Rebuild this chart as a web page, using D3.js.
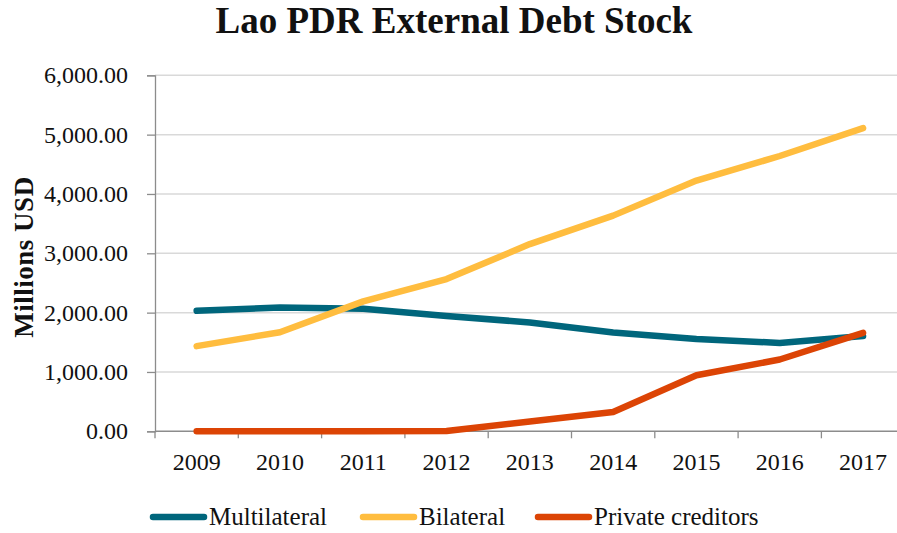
<!DOCTYPE html>
<html>
<head>
<meta charset="utf-8">
<script src="https://cdn.jsdelivr.net/npm/d3@7"></script>
<style>
  html, body { margin: 0; padding: 0; background: #fff; }
  svg { display: block; }
  text { font-family: "Liberation Serif", "DejaVu Serif", serif; fill: #111; }
</style>
</head>
<body>
<svg id="chart" width="897" height="533"></svg>
<script>
// Lao PDR external debt stock, millions USD
const years = ["2009", "2010", "2011", "2012", "2013", "2014", "2015", "2016", "2017"];
const multilateral = [2030, 2085, 2065, 1945, 1835, 1665, 1555, 1490, 1605];
const bilateral = [1435, 1670, 2190, 2565, 3155, 3635, 4225, 4640, 5110];
const privateCreditors = [0, 0, 0, 5, 165, 325, 945, 1210, 1660];
const yTicks = [0, 1000, 2000, 3000, 4000, 5000, 6000];

const seriesList = [
  { name: "Multilateral", values: multilateral, color: "#00667C" },
  { name: "Bilateral", values: bilateral, color: "#FFBD3F" },
  { name: "Private creditors", values: privateCreditors, color: "#DC4405" }
];

const svg = d3.select("#chart");
const plotLeft = 155, plotRight = 155 + 9 * 83.3, plotTop = 75.3, plotBottom = 431.3;

const x = d3.scaleBand().domain(years).range([plotLeft, plotRight]).padding(0);
const y = d3.scaleLinear().domain([0, 6000]).range([plotBottom, plotTop]);

// title
svg.append("text")
  .attr("x", 454).attr("y", 33)
  .attr("text-anchor", "middle")
  .style("font-size", "37px").style("font-weight", "bold")
  .text("Lao PDR External Debt Stock");

// horizontal gridlines
svg.append("g")
  .selectAll("line")
  .data(yTicks.filter(d => d > 0))
  .join("line")
  .attr("x1", plotLeft).attr("x2", plotRight)
  .attr("y1", d => y(d)).attr("y2", d => y(d))
  .attr("stroke", "#d9d9d9").attr("stroke-width", 1.5);

// y axis
const yAxis = svg.append("g")
  .attr("transform", `translate(${plotLeft},0)`)
  .call(d3.axisLeft(y).tickValues(yTicks).tickSize(8).tickPadding(19)
    .tickFormat(d3.format(",.2f")));
yAxis.select(".domain").attr("stroke", "#8c8c8c").attr("stroke-width", 1.3);
yAxis.selectAll(".tick line").attr("stroke", "#8c8c8c").attr("stroke-width", 1.3);
yAxis.selectAll(".tick text")
  .style("font-size", "24px").style("font-family", '"Liberation Serif", serif')
  .attr("fill", "#111");

// x axis with ticks at category boundaries
const xAxisG = svg.append("g").attr("transform", `translate(0,${plotBottom})`);
xAxisG.append("line")
  .attr("x1", plotLeft).attr("x2", plotRight)
  .attr("stroke", "#8c8c8c").attr("stroke-width", 1.5);
xAxisG.selectAll("line.tk")
  .data(years.concat(["end"]))
  .join("line").attr("class", "tk")
  .attr("x1", (d, i) => plotLeft + i * x.bandwidth())
  .attr("x2", (d, i) => plotLeft + i * x.bandwidth())
  .attr("y1", 0).attr("y2", 7)
  .attr("stroke", "#8c8c8c").attr("stroke-width", 1.3);
xAxisG.selectAll("text")
  .data(years)
  .join("text")
  .attr("x", d => x(d) + x.bandwidth() / 2)
  .attr("y", 39)
  .attr("text-anchor", "middle")
  .style("font-size", "24px")
  .text(d => d);

// y axis title
svg.append("text")
  .attr("transform", "translate(33,257) rotate(-90)")
  .attr("text-anchor", "middle")
  .style("font-size", "27px").style("font-weight", "bold")
  .style("letter-spacing", "0.5px")
  .text("Millions USD");

// series lines
const line = d3.line()
  .x((d, i) => x(years[i]) + x.bandwidth() / 2)
  .y(d => y(d));

svg.append("g")
  .selectAll("path")
  .data(seriesList)
  .join("path")
  .attr("d", s => line(s.values))
  .attr("fill", "none")
  .attr("stroke", s => s.color)
  .attr("stroke-width", 6.5)
  .attr("stroke-linecap", "round")
  .attr("stroke-linejoin", "round");

// legend
const legendPos = [150, 360, 535];
const lg = svg.append("g").selectAll("g")
  .data(seriesList)
  .join("g")
  .attr("transform", (d, i) => `translate(${legendPos[i]},517)`);
lg.append("line")
  .attr("x1", 3).attr("x2", 54).attr("y1", 0).attr("y2", 0)
  .attr("stroke", d => d.color).attr("stroke-width", 6.5)
  .attr("stroke-linecap", "round");
lg.append("text")
  .attr("x", 59).attr("y", 8)
  .style("font-size", "25px")
  .text(d => d.name);
</script>
</body>
</html>
